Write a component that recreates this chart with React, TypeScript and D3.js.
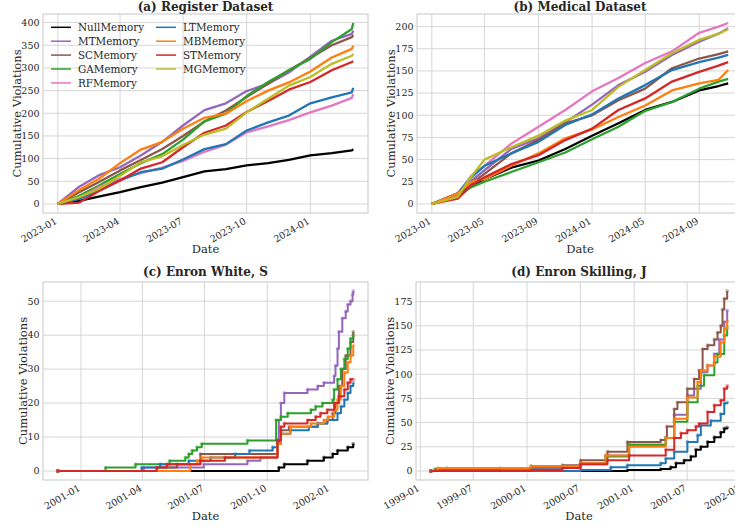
import React, { useEffect, useRef } from 'react';
import * as d3 from 'd3';

// legend / draw order
const seriesNames = ['NullMemory', 'MTMemory', 'SCMemory', 'GAMemory', 'RFMemory', 'LTMemory', 'MBMemory', 'STMemory', 'MGMemory'];
const seriesColors: Record<string, string> = {
  NullMemory: '#000000',
  MTMemory: '#9467bd',
  SCMemory: '#8c564b',
  GAMemory: '#2ca02c',
  RFMemory: '#e377c2',
  LTMemory: '#1f77b4',
  MBMemory: '#ff7f0e',
  STMemory: '#d62728',
  MGMemory: '#bcbd22',
};

// (a) Register Dataset
const registerDates = ['2023-01-01', '2023-02-01', '2023-03-01', '2023-04-01', '2023-05-01', '2023-06-01', '2023-07-01', '2023-08-01', '2023-09-01', '2023-10-01', '2023-11-01', '2023-12-01', '2024-01-01', '2024-02-01', '2024-03-01', '2024-03-03'];
const registerNull = [0, 7, 16, 26, 37, 47, 59, 72, 77, 85, 90, 97, 107, 112, 118, 121];
const registerMT = [0, 38, 63, 81, 107, 137, 173, 207, 222, 249, 265, 290, 325, 360, 375, 382];
const registerSC = [0, 26, 48, 74, 97, 121, 150, 182, 206, 236, 265, 295, 322, 350, 368, 372];
const registerGA = [0, 18, 40, 66, 90, 110, 142, 182, 199, 238, 269, 295, 320, 357, 386, 399];
const registerRF = [0, 13, 37, 55, 68, 80, 95, 115, 131, 158, 171, 185, 202, 217, 234, 242];
const registerLT = [0, 11, 29, 52, 70, 78, 98, 121, 132, 162, 180, 195, 222, 235, 246, 256];
const registerMB = [0, 31, 55, 90, 120, 137, 166, 190, 199, 227, 250, 268, 292, 323, 342, 349];
const registerST = [0, 3, 28, 52, 78, 92, 125, 157, 173, 203, 227, 252, 269, 295, 313, 315];
const registerMG = [0, 15, 33, 62, 92, 105, 130, 153, 166, 202, 232, 261, 280, 309, 327, 331];
const registerXTicks = ['2023-01-01', '2023-04-01', '2023-07-01', '2023-10-01', '2024-01-01'];
const registerYTicks = [0, 50, 100, 150, 200, 250, 300, 350, 400];

// (b) Medical Dataset
const medicalDates = ['2023-01-01', '2023-03-01', '2023-04-01', '2023-05-01', '2023-07-01', '2023-09-01', '2023-11-01', '2024-01-01', '2024-03-01', '2024-05-01', '2024-07-01', '2024-09-01', '2024-10-15', '2024-11-06'];
const medicalNull = [0, 10, 21, 28, 41, 49, 62, 77, 91, 106, 115, 128, 133, 136];
const medicalMT = [0, 12, 26, 38, 62, 74, 92, 112, 134, 149, 168, 183, 192, 198];
const medicalSC = [0, 12, 23, 34, 57, 72, 91, 100, 117, 130, 153, 164, 169, 172];
const medicalGA = [0, 9, 19, 25, 36, 47, 58, 73, 87, 105, 115, 130, 138, 141];
const medicalRF = [0, 11, 32, 43, 68, 87, 106, 127, 142, 159, 172, 193, 200, 204];
const medicalLT = [0, 12, 30, 43, 57, 70, 89, 101, 119, 134, 151, 160, 165, 168];
const medicalMB = [0, 12, 25, 28, 43, 57, 74, 84, 98, 111, 128, 136, 140, 151];
const medicalST = [0, 6, 21, 30, 45, 55, 72, 85, 106, 119, 138, 149, 156, 160];
const medicalMG = [0, 8, 31, 50, 64, 77, 94, 106, 132, 151, 170, 185, 192, 197];
const medicalXTicks = ['2023-01-01', '2023-05-01', '2023-09-01', '2024-01-01', '2024-05-01', '2024-09-01'];
const medicalYTicks = [0, 25, 50, 75, 100, 125, 150, 175, 200];

// (c) Enron White, S  -- [date, cumulative count] at each step
const whiteNull: [string, number][] = [['2000-11-28', 0], ['2001-10-18', 1], ['2001-10-26', 2], ['2001-11-29', 3], ['2001-12-23', 4], ['2002-01-05', 5], ['2002-01-12', 6], ['2002-01-27', 7], ['2002-02-04', 8]];
const whiteMT: [string, number][] = [['2000-11-28', 0], ['2001-04-03', 1], ['2001-06-30', 2], ['2001-09-02', 3], ['2001-09-21', 4], ['2001-10-16', 8], ['2001-10-18', 15], ['2001-10-21', 20], ['2001-10-26', 23], ['2001-11-29', 24], ['2001-12-14', 25], ['2001-12-23', 26], ['2002-01-07', 28], ['2002-01-09', 31], ['2002-01-12', 36], ['2002-01-14', 41], ['2002-01-19', 45], ['2002-01-24', 47], ['2002-01-27', 49], ['2002-01-31', 50], ['2002-02-03', 52], ['2002-02-04', 53]];
const whiteSC: [string, number][] = [['2000-11-28', 0], ['2001-04-22', 1], ['2001-05-22', 2], ['2001-06-25', 5], ['2001-10-16', 8], ['2001-10-21', 12], ['2001-11-02', 13], ['2001-12-14', 14], ['2001-12-28', 15], ['2002-01-05', 17], ['2002-01-09', 20], ['2002-01-14', 25], ['2002-01-19', 30], ['2002-01-24', 34], ['2002-01-31', 38], ['2002-02-04', 41]];
const whiteGA: [string, number][] = [['2000-11-28', 0], ['2001-02-06', 1], ['2001-03-22', 2], ['2001-05-11', 3], ['2001-06-03', 4], ['2001-06-08', 5], ['2001-06-13', 6], ['2001-06-20', 7], ['2001-06-27', 8], ['2001-09-02', 9], ['2001-10-14', 15], ['2001-10-21', 16], ['2001-10-31', 17], ['2001-12-04', 18], ['2001-12-11', 19], ['2001-12-21', 20], ['2002-01-05', 21], ['2002-01-07', 24], ['2002-01-12', 27], ['2002-01-17', 30], ['2002-01-22', 33], ['2002-01-27', 36], ['2002-01-31', 39], ['2002-02-04', 40]];
const whiteLT: [string, number][] = [['2000-11-28', 0], ['2001-03-31', 1], ['2001-04-27', 2], ['2001-06-08', 3], ['2001-07-10', 4], ['2001-08-15', 5], ['2001-09-05', 6], ['2001-10-09', 7], ['2001-10-16', 9], ['2001-10-21', 11], ['2001-11-04', 12], ['2001-12-01', 13], ['2001-12-14', 14], ['2001-12-28', 15], ['2002-01-12', 17], ['2002-01-17', 19], ['2002-01-22', 21], ['2002-01-27', 23], ['2002-01-31', 25], ['2002-02-04', 26]];
const whiteMB: [string, number][] = [['2000-11-28', 0], ['2001-06-10', 2], ['2001-06-20', 3], ['2001-06-27', 4], ['2001-10-16', 8], ['2001-10-21', 11], ['2001-11-04', 13], ['2001-12-04', 14], ['2001-12-23', 15], ['2001-12-29', 16], ['2002-01-07', 18], ['2002-01-12', 21], ['2002-01-17', 25], ['2002-01-22', 29], ['2002-01-27', 32], ['2002-01-31', 34], ['2002-02-04', 37]];
const whiteST: [string, number][] = [['2000-11-28', 0], ['2001-04-22', 1], ['2001-05-07', 2], ['2001-06-25', 3], ['2001-07-31', 4], ['2001-10-16', 9], ['2001-10-21', 13], ['2001-10-26', 14], ['2001-11-29', 15], ['2001-12-11', 16], ['2001-12-18', 17], ['2001-12-28', 18], ['2002-01-07', 20], ['2002-01-14', 22], ['2002-01-22', 24], ['2002-01-27', 26], ['2002-01-31', 27], ['2002-02-04', 27]];
const whiteXTicks = ['2001-01-01', '2001-04-01', '2001-07-01', '2001-10-01', '2002-01-01'];
const whiteYTicks = [0, 10, 20, 30, 40, 50];

// (d) Enron Skilling, J
const skillingNull: [string, number][] = [['1999-02-06', 0], ['2000-12-09', 1], ['2001-04-02', 2], ['2001-05-06', 4], ['2001-05-24', 8], ['2001-06-21', 11], ['2001-07-14', 15], ['2001-07-31', 22], ['2001-08-17', 25], ['2001-09-09', 30], ['2001-10-02', 35], ['2001-10-24', 40], ['2001-11-05', 44], ['2001-11-15', 45]];
const skillingMT: [string, number][] = [['1999-02-06', 0], ['1999-06-01', 2], ['2000-01-15', 3], ['2000-07-02', 8], ['2000-09-26', 16], ['2000-12-15', 27], ['2001-04-19', 34], ['2001-05-18', 58], ['2001-07-02', 78], ['2001-07-25', 85], ['2001-08-17', 102], ['2001-09-09', 109], ['2001-10-02', 121], ['2001-10-19', 136], ['2001-11-05', 154], ['2001-11-15', 166]];
const skillingSC: [string, number][] = [['1999-02-06', 0], ['1999-04-01', 3], ['2000-01-15', 5], ['2000-05-01', 6], ['2000-07-02', 11], ['2000-10-02', 20], ['2000-12-09', 30], ['2001-04-02', 32], ['2001-04-19', 34], ['2001-04-23', 46], ['2001-05-18', 64], ['2001-05-29', 71], ['2001-07-02', 85], ['2001-07-25', 95], ['2001-08-11', 104], ['2001-08-23', 126], ['2001-09-09', 130], ['2001-10-02', 136], ['2001-10-13', 143], ['2001-10-24', 150], ['2001-10-30', 167], ['2001-11-05', 178], ['2001-11-15', 186]];
const skillingGA: [string, number][] = [['1999-02-06', 0], ['1999-02-20', 2], ['1999-10-01', 3], ['2000-01-15', 4], ['2000-07-02', 7], ['2000-09-26', 15], ['2000-12-15', 27], ['2001-04-19', 34], ['2001-05-18', 51], ['2001-07-02', 71], ['2001-08-06', 88], ['2001-08-28', 99], ['2001-10-02', 112], ['2001-10-13', 121], ['2001-11-05', 140], ['2001-11-15', 148]];
const skillingLT: [string, number][] = [['1999-02-06', 0], ['2000-07-02', 1], ['2000-10-13', 4], ['2000-12-09', 6], ['2001-04-02', 8], ['2001-04-19', 13], ['2001-05-18', 20], ['2001-07-02', 30], ['2001-08-06', 37], ['2001-08-17', 47], ['2001-09-20', 52], ['2001-10-24', 59], ['2001-11-05', 70], ['2001-11-15', 71]];
const skillingMB: [string, number][] = [['1999-02-06', 0], ['1999-03-01', 3], ['2000-01-15', 5], ['2000-07-02', 8], ['2000-09-26', 16], ['2000-12-15', 25], ['2001-04-19', 34], ['2001-05-18', 54], ['2001-07-02', 76], ['2001-08-06', 92], ['2001-08-17', 104], ['2001-09-09', 109], ['2001-10-02', 118], ['2001-10-24', 133], ['2001-11-05', 147], ['2001-11-15', 155]];
const skillingST: [string, number][] = [['1999-02-06', 0], ['2000-01-15', 1], ['2000-05-01', 3], ['2000-07-02', 7], ['2000-10-02', 11], ['2000-12-15', 16], ['2001-04-19', 22], ['2001-05-18', 34], ['2001-06-10', 39], ['2001-07-02', 42], ['2001-07-31', 46], ['2001-08-11', 49], ['2001-09-09', 61], ['2001-10-02', 68], ['2001-10-24', 73], ['2001-11-05', 85], ['2001-11-15', 88]];
const skillingXTicks = ['1999-01-01', '1999-07-01', '2000-01-01', '2000-07-01', '2001-01-01', '2001-07-01', '2002-01-01'];
const skillingYTicks = [0, 25, 50, 75, 100, 125, 150, 175];

const parseDate = d3.timeParse('%Y-%m-%d');
const fmtTick = d3.timeFormat('%Y-%m');

type Pt = [Date, number];
type Line = { name: string; points: Pt[] };

const zipDates = (dates: string[], values: number[]): Pt[] =>
  dates.map((d, i) => [parseDate(d) as Date, values[i]]);
const toPts = (rows: [string, number][]): Pt[] => rows.map(([d, v]) => [parseDate(d) as Date, v]);

const panels = [
  {
    title: '(a) Register Dataset',
    box: { left: 43, right: 368, top: 14, bottom: 213 },
    titleY: 11,
    step: false,
    xTicks: registerXTicks,
    yTicks: registerYTicks,
    lines: [
      { name: 'NullMemory', points: zipDates(registerDates, registerNull) },
      { name: 'MTMemory', points: zipDates(registerDates, registerMT) },
      { name: 'SCMemory', points: zipDates(registerDates, registerSC) },
      { name: 'GAMemory', points: zipDates(registerDates, registerGA) },
      { name: 'RFMemory', points: zipDates(registerDates, registerRF) },
      { name: 'LTMemory', points: zipDates(registerDates, registerLT) },
      { name: 'MBMemory', points: zipDates(registerDates, registerMB) },
      { name: 'STMemory', points: zipDates(registerDates, registerST) },
      { name: 'MGMemory', points: zipDates(registerDates, registerMG) },
    ] as Line[],
  },
  {
    title: '(b) Medical Dataset',
    box: { left: 417, right: 743, top: 14, bottom: 213 },
    titleY: 11,
    step: false,
    xTicks: medicalXTicks,
    yTicks: medicalYTicks,
    lines: [
      { name: 'NullMemory', points: zipDates(medicalDates, medicalNull) },
      { name: 'MTMemory', points: zipDates(medicalDates, medicalMT) },
      { name: 'SCMemory', points: zipDates(medicalDates, medicalSC) },
      { name: 'GAMemory', points: zipDates(medicalDates, medicalGA) },
      { name: 'RFMemory', points: zipDates(medicalDates, medicalRF) },
      { name: 'LTMemory', points: zipDates(medicalDates, medicalLT) },
      { name: 'MBMemory', points: zipDates(medicalDates, medicalMB) },
      { name: 'STMemory', points: zipDates(medicalDates, medicalST) },
      { name: 'MGMemory', points: zipDates(medicalDates, medicalMG) },
    ] as Line[],
  },
  {
    title: '(c) Enron White, S',
    box: { left: 43, right: 368, top: 282, bottom: 480 },
    titleY: 276,
    step: true,
    xTicks: whiteXTicks,
    yTicks: whiteYTicks,
    lines: [
      { name: 'NullMemory', points: toPts(whiteNull) },
      { name: 'MTMemory', points: toPts(whiteMT) },
      { name: 'SCMemory', points: toPts(whiteSC) },
      { name: 'GAMemory', points: toPts(whiteGA) },
      { name: 'LTMemory', points: toPts(whiteLT) },
      { name: 'MBMemory', points: toPts(whiteMB) },
      { name: 'STMemory', points: toPts(whiteST) },
    ] as Line[],
  },
  {
    title: '(d) Enron Skilling, J',
    box: { left: 416, right: 742, top: 282, bottom: 480 },
    titleY: 276,
    step: true,
    xTicks: skillingXTicks,
    yTicks: skillingYTicks,
    lines: [
      { name: 'NullMemory', points: toPts(skillingNull) },
      { name: 'MTMemory', points: toPts(skillingMT) },
      { name: 'SCMemory', points: toPts(skillingSC) },
      { name: 'GAMemory', points: toPts(skillingGA) },
      { name: 'LTMemory', points: toPts(skillingLT) },
      { name: 'MBMemory', points: toPts(skillingMB) },
      { name: 'STMemory', points: toPts(skillingST) },
    ] as Line[],
  },
];

const FONT = '"DejaVu Serif", serif';
const TEXT = '#262626';
const GRID = '#d6d6d6';

export default function App() {
  const svgRef = useRef<SVGSVGElement>(null);

  useEffect(() => {
    const svg = d3.select(svgRef.current);
    svg.selectAll('*').remove();
    svg.append('rect').attr('width', 735).attr('height', 527).attr('fill', 'white');

    panels.forEach((p) => {
      const { left, right, top, bottom } = p.box;
      const all = p.lines.flatMap((l) => l.points);
      const [t0, t1] = d3.extent(all, (d) => d[0].getTime()) as [number, number];
      const [v0, v1] = d3.extent(all, (d) => d[1]) as [number, number];
      // matplotlib-like 5% margins
      const padT = (t1 - t0) * 0.05;
      const padV = (v1 - v0) * 0.05;
      const x = d3.scaleTime().domain([new Date(t0 - padT), new Date(t1 + padT)]).range([left, right]);
      const y = d3.scaleLinear().domain([v0 - padV, v1 + padV]).range([bottom, top]);

      const g = svg.append('g');
      const xt = p.xTicks.map((d) => parseDate(d) as Date);

      // grid
      g.selectAll('line.gx')
        .data(xt)
        .enter()
        .append('line')
        .attr('x1', (d) => x(d))
        .attr('x2', (d) => x(d))
        .attr('y1', top)
        .attr('y2', bottom)
        .attr('stroke', GRID)
        .attr('stroke-width', 1);
      g.selectAll('line.gy')
        .data(p.yTicks)
        .enter()
        .append('line')
        .attr('x1', left)
        .attr('x2', right)
        .attr('y1', (d) => y(d))
        .attr('y2', (d) => y(d))
        .attr('stroke', GRID)
        .attr('stroke-width', 1);

      // series
      const line = d3
        .line<Pt>()
        .x((d) => x(d[0]))
        .y((d) => y(d[1]))
        .curve(p.step ? d3.curveStepAfter : d3.curveLinear);
      p.lines.forEach((l) => {
        const c = seriesColors[l.name];
        g.append('path')
          .datum(l.points)
          .attr('fill', 'none')
          .attr('stroke', c)
          .attr('stroke-width', p.step ? 2 : 2.3)
          .attr('stroke-linejoin', 'round')
          .attr('d', line);
        if (p.step) {
          g.selectAll(null)
            .data(l.points)
            .enter()
            .append('circle')
            .attr('cx', (d) => x(d[0]))
            .attr('cy', (d) => y(d[1]))
            .attr('r', 1.9)
            .attr('fill', c)
            .attr('opacity', 0.45);
        }
      });

      // frame
      g.append('rect')
        .attr('x', left)
        .attr('y', top)
        .attr('width', right - left)
        .attr('height', bottom - top)
        .attr('fill', 'none')
        .attr('stroke', '#cccccc')
        .attr('stroke-width', 1.1);

      // y tick labels
      g.selectAll('text.yt')
        .data(p.yTicks)
        .enter()
        .append('text')
        .attr('x', left - 3.5)
        .attr('y', (d) => y(d))
        .attr('dy', '0.35em')
        .attr('text-anchor', 'end')
        .attr('font-family', FONT)
        .attr('font-size', 9.5)
        .attr('fill', TEXT)
        .text((d) => String(d));

      // x tick labels, rotated like autofmt_xdate
      g.selectAll('text.xt')
        .data(xt)
        .enter()
        .append('text')
        .attr('transform', (d) => `translate(${x(d)},${bottom + 10}) rotate(-30)`)
        .attr('text-anchor', 'end')
        .attr('font-family', FONT)
        .attr('font-size', 9.5)
        .attr('fill', TEXT)
        .text((d) => fmtTick(d));

      // labels + title
      const digits = String(d3.max(p.yTicks)).length;
      const ylx = left - (4.5 + digits * 5.9);
      g.append('text')
        .attr('transform', `translate(${ylx},${(top + bottom) / 2}) rotate(-90)`)
        .attr('text-anchor', 'middle')
        .attr('font-family', FONT)
        .attr('font-size', 11.5)
        .attr('fill', TEXT)
        .text('Cumulative Violations');
      g.append('text')
        .attr('x', (left + right) / 2)
        .attr('y', bottom + 40)
        .attr('text-anchor', 'middle')
        .attr('font-family', FONT)
        .attr('font-size', 11.5)
        .attr('fill', TEXT)
        .text('Date');
      g.append('text')
        .attr('x', (left + right) / 2)
        .attr('y', p.titleY)
        .attr('text-anchor', 'middle')
        .attr('font-family', FONT)
        .attr('font-size', 12)
        .attr('font-weight', 'bold')
        .attr('fill', TEXT)
        .text(p.title);
    });

    // legend, two columns, inside panel (a)
    const lg = svg.append('g');
    const box = panels[0].box;
    seriesNames.forEach((name, i) => {
      const col = i < 5 ? 0 : 1;
      const row = i < 5 ? i : i - 5;
      const lx = box.left + 8 + col * 105;
      const ly = box.top + 13.3 + row * 13.9;
      lg.append('line')
        .attr('x1', lx)
        .attr('x2', lx + 20)
        .attr('y1', ly)
        .attr('y2', ly)
        .attr('stroke', seriesColors[name])
        .attr('stroke-width', 1.5);
      lg.append('text')
        .attr('x', lx + 27)
        .attr('y', ly)
        .attr('dy', '0.35em')
        .attr('font-family', FONT)
        .attr('font-size', 10.4)
        .attr('fill', TEXT)
        .text(name);
    });
  }, []);

  return (
    <svg
      ref={svgRef}
      width={735}
      height={527}
      style={{ position: 'absolute', left: 0, top: 0, display: 'block' }}
    />
  );
}
